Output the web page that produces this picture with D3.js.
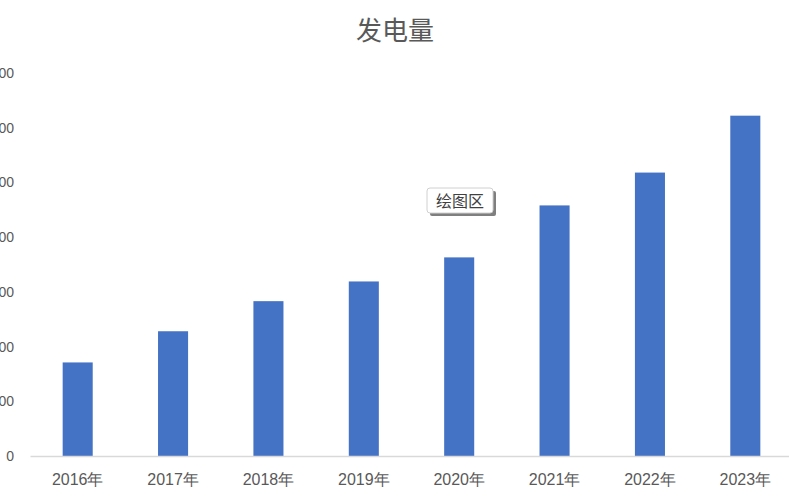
<!DOCTYPE html>
<html><head><meta charset="utf-8">
<script src="https://cdn.jsdelivr.net/npm/d3@7"></script>
<style>
html,body{margin:0;padding:0;background:#fff;overflow:hidden;}
svg{display:block;font-family:"Noto Sans CJK SC","Microsoft YaHei",sans-serif;}
</style></head>
<body>
<svg id="chart" width="789" height="502"></svg>
<script>
const categories = ["2016年","2017年","2018年","2019年","2020年","2021年","2022年","2023年"];
const values = [171, 228, 283, 319, 363, 458, 518, 622];
const yTicks = [0, 100, 200, 300, 400, 500, 600, 700];
const title = "发电量";
const tooltipText = "绘图区";

const svg = d3.select("#chart");
const x = d3.scaleBand().domain(categories).range([30, 793]).paddingInner(0.685).paddingOuter(0.3425);
const y = d3.scaleLinear().domain([0, 700]).range([456, 73]);

svg.append("text").attr("x", 395).attr("y", 40).attr("text-anchor", "middle")
  .attr("font-size", 26).attr("fill", "#595959").text(title);

// y axis labels
const ya = svg.append("g").attr("transform", "translate(14,0)")
  .call(d3.axisLeft(y).tickValues(yTicks).tickSize(0).tickPadding(0));
ya.select(".domain").remove();
ya.selectAll("text").attr("font-size", 14).attr("fill", "#595959")
  .attr("font-family", "'Liberation Sans', Arial, sans-serif");

// bars
svg.append("g").selectAll("rect").data(values).join("rect")
  .attr("x", (d, i) => x(categories[i]))
  .attr("width", x.bandwidth())
  .attr("y", d => y(d))
  .attr("height", d => y(0) - y(d))
  .attr("fill", "#4472C4");

// x axis
const xa = svg.append("g").attr("transform", `translate(0,${y(0)})`)
  .call(d3.axisBottom(x).tickSize(0).tickPadding(18));
xa.select(".domain").attr("stroke", "#d9d9d9").attr("stroke-width", 1.5);
xa.selectAll("text").attr("font-size", 16).attr("fill", "#595959");

// tooltip
const tg = svg.append("g").attr("transform", "translate(427,188)");
tg.append("rect").attr("x", 3).attr("y", 3).attr("width", 66).attr("height", 25).attr("fill", "#7f7f7f").attr("rx", 2);
tg.append("rect").attr("x", 0).attr("y", 0).attr("width", 66).attr("height", 25).attr("fill", "#fff")
  .attr("stroke", "#d0d0d0").attr("rx", 3);
tg.append("text").attr("x", 33).attr("y", 19).attr("text-anchor", "middle").attr("font-size", 16)
  .attr("fill", "#404040").text(tooltipText);
</script>
</body></html>
